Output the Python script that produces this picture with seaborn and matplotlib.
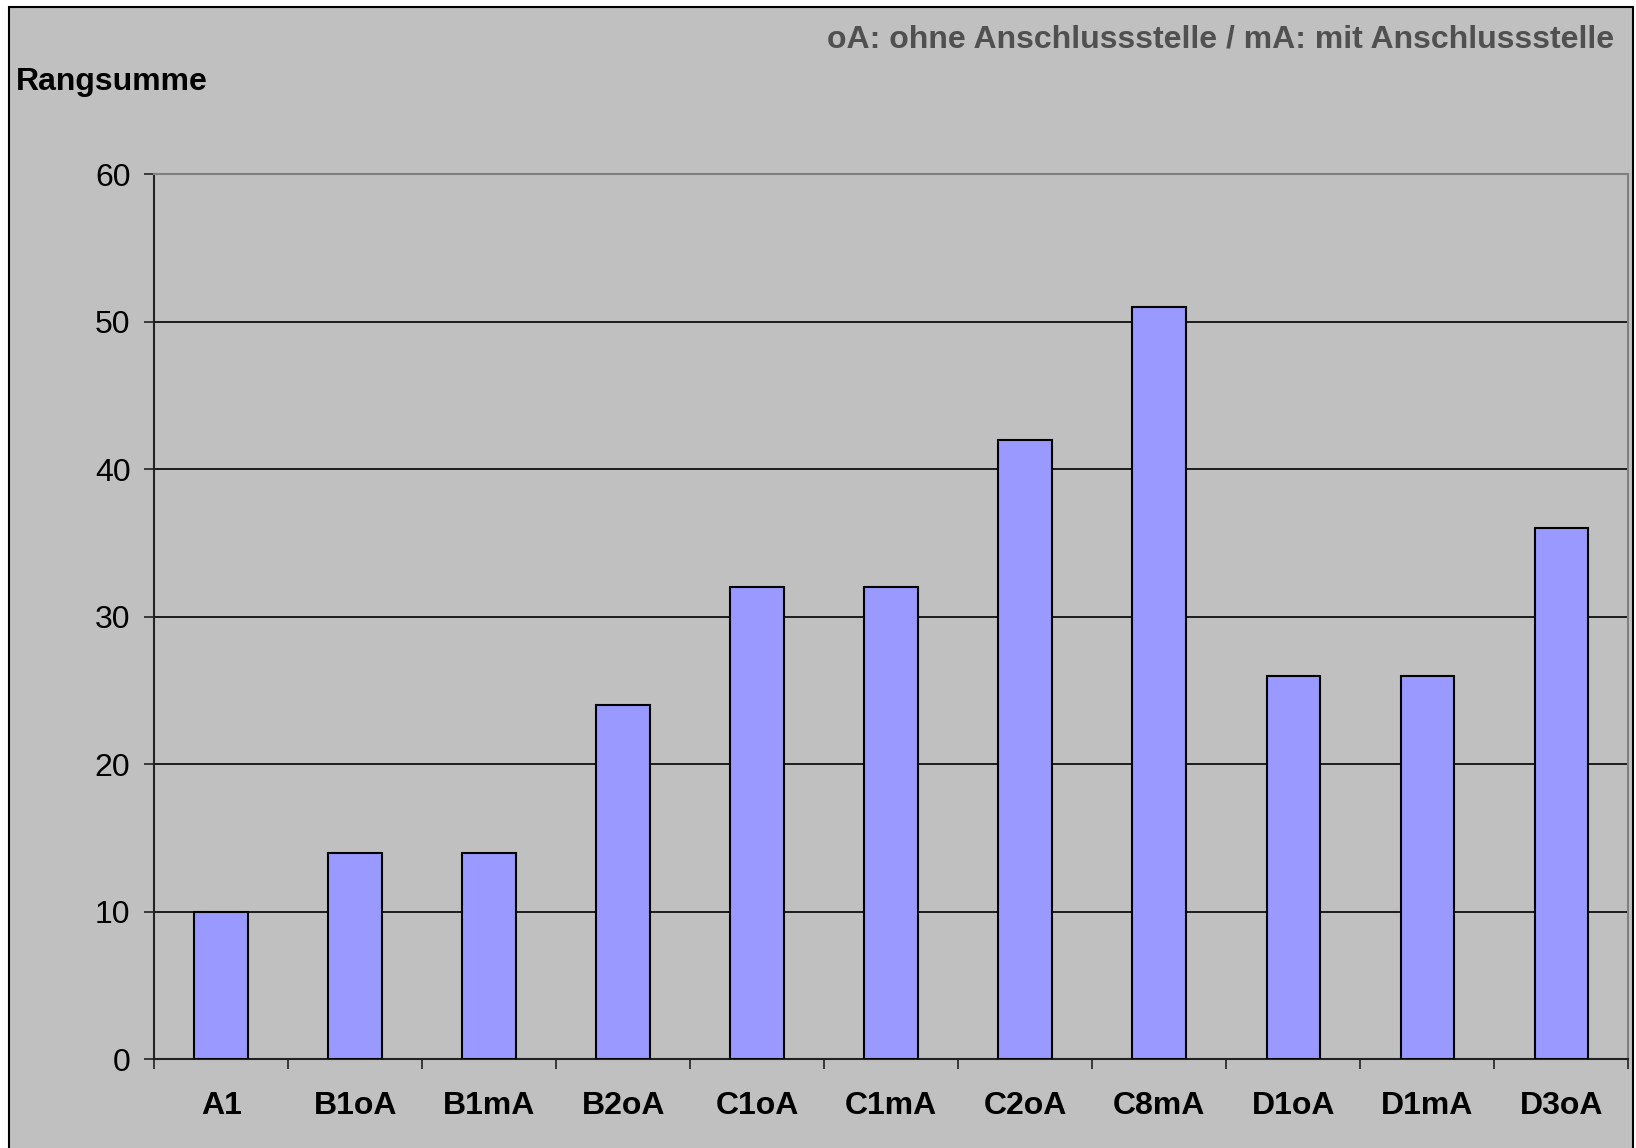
import matplotlib.pyplot as plt
import numpy as np
import pandas as pd
import seaborn as sns
from matplotlib.patches import Rectangle


CATEGORIES = ["A1", "B1oA", "B1mA", "B2oA", "C1oA", "C1mA", "C2oA", "C8mA", "D1oA", "D1mA", "D3oA"]
RANGSUMME = [10, 14, 14, 24, 32, 32, 42, 51, 26, 26, 36]
Y_TICKS = [0, 10, 20, 30, 40, 50, 60]

BG_GREY = "#C0C0C0"
BAR_COLOR = "#9999FF"


def main() -> None:
    sns.set_style("white")
    plt.rcParams["font.family"] = ["Liberation Sans", "DejaVu Sans"]

    df = pd.DataFrame({"kategorie": CATEGORIES, "rangsumme": RANGSUMME})

    fig = plt.figure(figsize=(16.36, 11.48), dpi=100)
    fig.patch.set_facecolor("white")
    # grey chart area with dark border, as in the spreadsheet export
    fig.patches.append(Rectangle((9 / 1636, -0.01), (1633 - 9) / 1636, 1 - 7 / 1148 + 0.01,
                                 transform=fig.transFigure, facecolor=BG_GREY,
                                 edgecolor="black", linewidth=1.5, zorder=-5))

    ax = fig.add_axes([0.0943, 0.0775, 0.9010, 0.7705])
    ax.set_zorder(2)
    ax.set_facecolor(BG_GREY)

    sns.barplot(data=df, x="kategorie", y="rangsumme", color=BAR_COLOR, saturation=1,
                width=0.4, edgecolor="black", linewidth=1.5, ax=ax, zorder=3)

    ax.set_xlim(-0.5, len(CATEGORIES) - 0.5)
    ax.set_ylim(0, 60)
    ax.set_yticks(Y_TICKS)
    ax.set_axisbelow(True)
    ax.yaxis.grid(True, color="black", linewidth=1.2)
    ax.xaxis.grid(False)

    ax.set_xlabel("")
    ax.set_ylabel("")

    ax.set_xticks(np.arange(len(CATEGORIES)))
    ax.set_xticklabels(CATEGORIES, fontsize=23, fontweight="bold")
    ax.set_xticks(np.arange(len(CATEGORIES) + 1) - 0.5, minor=True)
    ax.tick_params(axis="x", which="major", length=0, pad=23, labelcolor="black")
    ax.tick_params(axis="x", which="minor", bottom=True, length=7.2, width=1.2,
                   color="#222222", direction="out")
    ax.tick_params(axis="y", which="major", left=True, length=7.2, width=1.2, color="#222222",
                   direction="out", labelsize=23, pad=10, labelcolor="black")

    for side in ["left", "bottom"]:
        ax.spines[side].set_color("#222222")
        ax.spines[side].set_linewidth(1.5)
    for side in ["top", "right"]:
        ax.spines[side].set_visible(True)
        ax.spines[side].set_color("#808080")
        ax.spines[side].set_linewidth(1.5)

    fig.text(16 / 1636, 1 - 82 / 1148, "Rangsumme", fontsize=23, fontweight="bold",
             ha="left", va="center", color="black")
    fig.text(1614 / 1636, 1 - 39 / 1148, "oA: ohne Anschlussstelle / mA: mit Anschlussstelle",
             fontsize=23, fontweight="bold", ha="right", va="center", color="#505050")

    fig.savefig("out.png", dpi=100, facecolor=fig.get_facecolor())
    plt.close(fig)


if __name__ == "__main__":
    main()
